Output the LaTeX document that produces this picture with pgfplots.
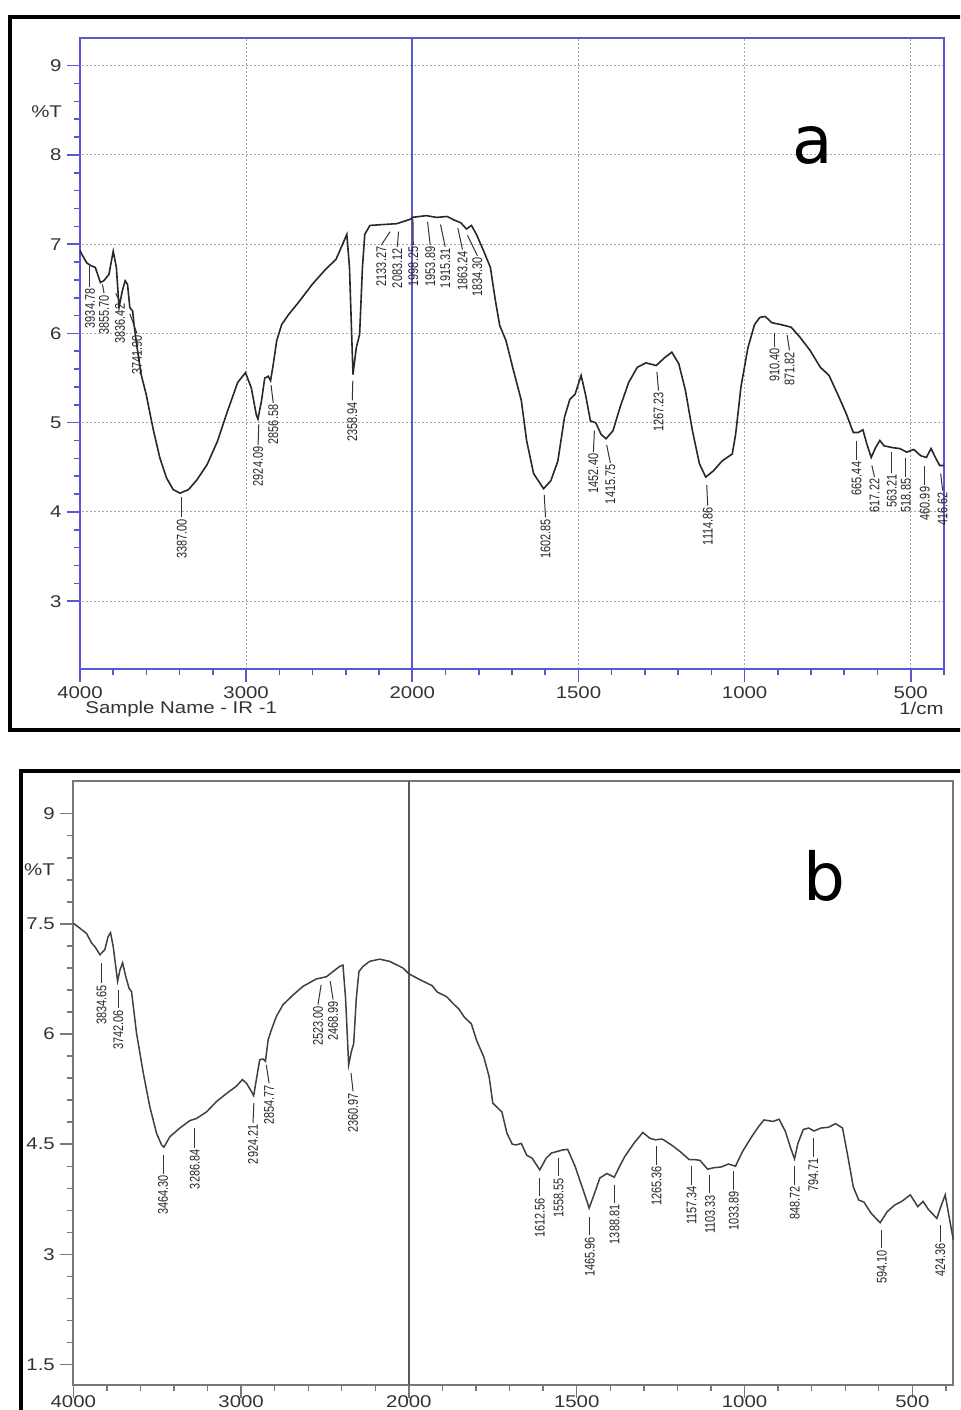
\documentclass[border=0pt]{standalone}
\usepackage{fontspec}
\setmainfont{Liberation Sans}
\newfontfamily\dejavu{DejaVu Sans}
\usepackage{graphicx}
\usepackage{pgfplots}
\usepackage{pgfplotstable}
\pgfplotsset{compat=1.18}

\definecolor{axblue}{RGB}{88,88,210}
\definecolor{gridgray}{RGB}{165,165,165}
\definecolor{curvec}{RGB}{40,40,40}
\definecolor{axgray}{RGB}{120,120,120}

\newcommand{\W}[1]{\scalebox{1.2}[1]{#1}}
\newcommand{\pk}[5]{\draw[leader] (axis cs:#1,#2) -- (axis cs:#3,#4) node[pklabel]{\scalebox{0.78}[1]{#5}};}

\tikzset{
  leader/.style={black!80, line width=0.5pt},
  pklabel/.style={rotate=90, anchor=east, inner sep=0.6pt, font=\fontsize{7}{7}\selectfont, text=black!85},
}

\pgfplotstableread{
w T
4000 6.93
3990 6.89
3959 6.79
3935 6.76
3908 6.74
3877 6.57
3857 6.59
3826 6.66
3800 6.92
3781 6.74
3765 6.29
3745 6.48
3728 6.59
3714 6.55
3700 6.29
3683 6.25
3673 6.07
3653 5.80
3632 5.54
3602 5.32
3561 4.94
3520 4.61
3479 4.38
3439 4.25
3398 4.21
3347 4.25
3296 4.36
3235 4.53
3173 4.79
3112 5.13
3051 5.45
3004 5.56
2969 5.39
2939 5.09
2929 5.04
2908 5.24
2888 5.50
2867 5.52
2853 5.47
2837 5.65
2816 5.92
2786 6.10
2745 6.21
2684 6.35
2602 6.55
2521 6.72
2459 6.83
2394 7.11
2378 6.74
2357 5.54
2337 5.84
2317 5.99
2300 6.74
2286 7.11
2255 7.21
2174 7.22
2092 7.23
2011 7.28
2000 7.30
1958 7.32
1927 7.30
1895 7.31
1874 7.27
1854 7.24
1837 7.17
1822 7.21
1807 7.11
1786 6.93
1765 6.74
1750 6.37
1737 6.09
1718 5.92
1698 5.62
1672 5.25
1656 4.80
1635 4.43
1605 4.26
1583 4.35
1562 4.57
1542 5.06
1526 5.26
1510 5.32
1492 5.53
1479 5.32
1464 5.02
1448 5.00
1432 4.87
1417 4.82
1396 4.91
1375 5.17
1349 5.45
1323 5.62
1297 5.67
1266 5.64
1240 5.73
1219 5.79
1198 5.66
1178 5.36
1157 4.91
1136 4.54
1117 4.39
1094 4.46
1068 4.57
1037 4.65
1027 4.87
1011 5.40
990 5.84
970 6.10
954 6.18
938 6.19
918 6.12
892 6.10
860 6.07
834 5.96
803 5.81
772 5.62
746 5.53
720 5.32
694 5.10
673 4.89
658 4.89
644 4.92
632 4.76
619 4.61
606 4.72
593 4.80
580 4.74
554 4.72
533 4.71
512 4.67
491 4.70
470 4.63
453 4.61
439 4.71
423 4.59
413 4.52
400 4.52
}\dataA

\pgfplotstableread{
w T
4000 7.51
3960 7.44
3921 7.37
3891 7.24
3871 7.19
3841 7.08
3812 7.15
3792 7.33
3778 7.38
3762 7.19
3736 6.72
3722 6.87
3706 6.97
3687 6.78
3667 6.62
3653 6.58
3623 6.01
3583 5.47
3544 5.01
3504 4.65
3474 4.49
3460 4.46
3425 4.60
3365 4.72
3306 4.82
3266 4.85
3206 4.94
3147 5.08
3087 5.19
3028 5.29
2992 5.38
2968 5.33
2939 5.22
2925 5.16
2909 5.38
2889 5.65
2869 5.66
2855 5.63
2839 5.92
2819 6.06
2790 6.24
2750 6.40
2691 6.53
2631 6.65
2552 6.75
2492 6.78
2453 6.85
2413 6.92
2393 6.94
2377 6.47
2359 5.58
2343 5.76
2329 5.87
2314 6.47
2298 6.85
2274 6.92
2234 6.99
2175 7.02
2115 6.99
2036 6.90
2000 6.82
1963 6.73
1931 6.66
1915 6.57
1888 6.51
1867 6.41
1851 6.34
1835 6.23
1814 6.14
1798 5.91
1777 5.69
1761 5.42
1750 5.06
1739 5.01
1723 4.94
1708 4.65
1692 4.50
1681 4.49
1665 4.51
1649 4.35
1633 4.31
1610 4.15
1591 4.31
1575 4.38
1559 4.40
1543 4.42
1527 4.43
1505 4.20
1484 3.92
1463 3.63
1447 3.83
1431 4.04
1410 4.10
1388 4.05
1372 4.20
1357 4.33
1330 4.51
1303 4.66
1282 4.58
1266 4.56
1245 4.57
1218 4.49
1192 4.40
1165 4.29
1149 4.29
1133 4.28
1110 4.16
1091 4.18
1069 4.19
1048 4.23
1027 4.20
1006 4.40
979 4.60
958 4.74
942 4.83
915 4.81
897 4.84
878 4.67
862 4.44
851 4.30
841 4.51
825 4.70
809 4.72
793 4.68
772 4.72
750 4.73
729 4.78
708 4.72
692 4.33
676 3.92
660 3.74
644 3.71
623 3.56
596 3.43
575 3.58
553 3.67
532 3.72
506 3.81
484 3.65
468 3.72
452 3.61
427 3.49
415 3.65
402 3.81
392 3.55
378 3.20
}\dataB

\pgfplotsset{
  irbase/.style={
    scale only axis,
    x coord trafo/.code={\pgfmathparse{min(##1,2000)+max(##1-2000,0)/2}},
    x coord inv trafo/.code={\pgfmathparse{min(##1,2000)+2*max(##1-2000,0)}},
    x dir=reverse,
    xmax=4000,
    xtick={4000,3000,2000,1500,1000,500},
    xticklabels={\W{4000},\W{3000},\W{2000},\W{1500},\W{1000},\W{500}},
    minor xtick={3800,3600,3400,3200,2800,2600,2400,2200,1900,1800,1700,1600,1400,1300,1200,1100,900,800,700,600,400},
    minor y tick num=4,
    tick pos=left,
    tick align=outside,
    major tick length=6.5pt, minor tick length=3.2pt,
    tick label style={font=\fontsize{8.5}{9}\selectfont, text=black!80},
    xticklabel style={yshift=1.3pt},
    yticklabel style={xshift=0.8pt},
    clip=false,
  }
}

\begin{document}
\begin{tikzpicture}
\useasboundingbox (0,0) rectangle (480pt,-705pt);
\clip (0,0) rectangle (480pt,-705pt);

% outer frames
\draw[line width=1.9pt, black] (490pt,-8.35pt) -- (5.15pt,-8.35pt) -- (5.15pt,-365pt) -- (490pt,-365pt);
\draw[line width=1.9pt, black] (490pt,-385.5pt) -- (10.65pt,-385.5pt) -- (10.65pt,-720pt);

% ---------- panel a ----------
\begin{axis}[irbase,
  at={(40pt,-334.5pt)}, anchor=south west,
  width=432pt, height=315.5pt,
  xmin=400, ymin=2.24, ymax=9.31,
  ytick={3,4,5,6,7,8,9},
  yticklabels={\W{3},\W{4},\W{5},\W{6},\W{7},\W{8},\W{9}},
  axis line style={axblue, line width=1pt},
  tick style={axblue, line width=0.8pt},
  xmajorgrids, ymajorgrids,
  major grid style={gridgray, line width=0.5pt, dash pattern=on 1pt off 1pt},
  extra x ticks={2000}, extra x tick labels={},
  extra x tick style={grid=major, major grid style={axblue, line width=1pt, solid}, major tick length=0pt},
]
\addplot[curvec, line width=0.8pt] table[x=w, y=T] {\dataA};
\pk{3940}{6.75}{3940}{6.52}{3934.78}
\pk{3865}{6.55}{3855}{6.45}{3855.70}
\pk{3785}{6.45}{3759}{6.35}{3836.42}
\pk{3700}{6.22}{3657}{6.00}{3741.90}
\pk{3387}{4.17}{3387}{3.94}{3387.00}
\pk{2924}{4.98}{2928}{4.75}{2924.09}
\pk{2850}{5.42}{2837}{5.22}{2856.58}
\pk{2358}{5.47}{2361}{5.25}{2358.94}
\pk{2133}{7.14}{2187}{6.99}{2133.27}
\pk{2083}{7.14}{2090}{6.97}{2083.12}
\pk{1998}{7.28}{1997}{6.99}{1998.25}
\pk{1954}{7.25}{1946}{6.99}{1953.89}
\pk{1915}{7.22}{1901}{6.97}{1915.31}
\pk{1863}{7.18}{1849}{6.94}{1863.24}
\pk{1834}{7.10}{1804}{6.87}{1834.30}
\pk{1603}{4.19}{1599}{3.94}{1602.85}
\pk{1452}{4.91}{1455}{4.67}{1452.40}
\pk{1415}{4.75}{1404}{4.55}{1415.75}
\pk{1264}{5.57}{1259}{5.36}{1267.23}
\pk{1114}{4.30}{1111}{4.07}{1114.86}
\pk{910}{6.01}{910}{5.85}{910.40}
\pk{872}{5.98}{865}{5.81}{871.82}
\pk{663}{4.80}{663}{4.58}{665.44}
\pk{617}{4.52}{609}{4.39}{617.22}
\pk{557}{4.67}{557}{4.44}{563.21}
\pk{515}{4.60}{515}{4.39}{518.85}
\pk{458}{4.52}{458}{4.30}{460.99}
\pk{410}{4.43}{404}{4.24}{416.62}
\end{axis}

\node[font=\fontsize{8.5}{9}\selectfont, text=black!80] at (23.3pt,-55.7pt) {\W{\%T}};
\node[font=\fontsize{8.5}{9}\selectfont, text=black!80, anchor=base west, inner sep=0pt] at (42.5pt,-356.5pt) {\W{Sample Name - IR -1}};
\node[font=\fontsize{8.5}{9}\selectfont, text=black!80, anchor=base east, inner sep=0pt] at (472pt,-357pt) {\W{1/cm}};
\node[font=\dejavu\fontsize{33}{33}\selectfont, anchor=base, inner sep=0pt] at (406.3pt,-81.5pt) {a};

% ---------- panel b ----------
\begin{axis}[irbase,
  at={(36.65pt,-692.5pt)}, anchor=south west,
  width=440pt, height=302.15pt,
  xmin=378, ymin=1.22, ymax=9.45,
  ytick={1.5,3,4.5,6,7.5,9},
  yticklabels={\W{1.5},\W{3},\W{4.5},\W{6},\W{7.5},\W{9}},
  xticklabel style={yshift=3.3pt},
  axis line style={axgray, line width=0.8pt},
  tick style={axgray, line width=0.7pt},
  extra x ticks={2000}, extra x tick labels={},
  extra x tick style={grid=major, major grid style={black!65, line width=0.8pt, solid}, major tick length=0pt},
]
\addplot[black!75, line width=0.75pt] table[x=w, y=T] {\dataB};
\pk{3831}{6.97}{3831}{6.69}{3834.65}
\pk{3732}{6.60}{3732}{6.35}{3742.06}
\pk{3465}{4.35}{3465}{4.10}{3464.30}
\pk{3276}{4.72}{3276}{4.45}{3286.84}
\pk{2924}{5.06}{2929}{4.79}{2924.21}
\pk{2850}{5.58}{2833}{5.33}{2854.77}
\pk{2523}{6.67}{2542}{6.40}{2523.00}
\pk{2469}{6.72}{2452}{6.47}{2468.99}
\pk{2345}{5.47}{2333}{5.22}{2360.97}
\pk{1610}{4.04}{1610}{3.79}{1612.56}
\pk{1554}{4.31}{1554}{4.06}{1558.55}
\pk{1461}{3.51}{1461}{3.26}{1465.96}
\pk{1387}{3.95}{1387}{3.70}{1388.81}
\pk{1262}{4.47}{1262}{4.22}{1265.36}
\pk{1158}{4.20}{1158}{3.95}{1157.34}
\pk{1103}{4.08}{1103}{3.83}{1103.33}
\pk{1032}{4.13}{1032}{3.88}{1033.89}
\pk{850}{4.20}{850}{3.95}{848.72}
\pk{795}{4.58}{795}{4.33}{794.71}
\pk{591}{3.33}{591}{3.08}{594.10}
\pk{417}{3.40}{417}{3.17}{424.36}
\end{axis}

\node[font=\fontsize{8.5}{9}\selectfont, text=black!80] at (19.75pt,-435pt) {\W{\%T}};
\node[font=\dejavu\fontsize{33}{33}\selectfont, anchor=base, inner sep=0pt] at (412.1pt,-450pt) {b};
\end{tikzpicture}
\end{document}
